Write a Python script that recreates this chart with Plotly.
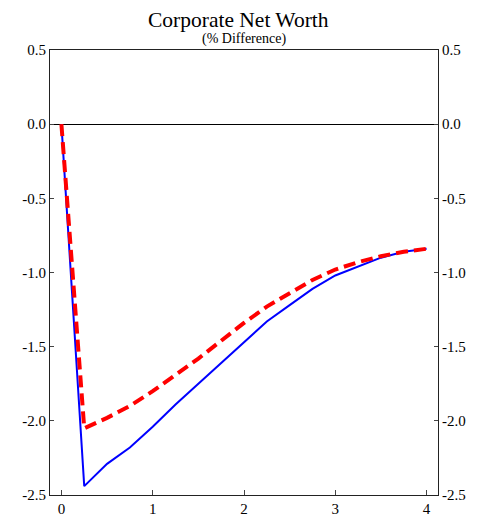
import plotly.graph_objects as go

quarters = [0, 0.25, 0.5, 0.75, 1.0, 1.25, 1.5, 1.75, 2.0, 2.25, 2.5, 2.75, 3.0, 3.25, 3.5, 3.75, 4.0]
blue_vals = [0, -2.44, -2.29, -2.18, -2.04, -1.89, -1.75, -1.61, -1.47, -1.33, -1.22, -1.11, -1.02, -0.96, -0.90, -0.86, -0.84]
red_vals = [0, -2.05, -1.98, -1.90, -1.80, -1.69, -1.58, -1.46, -1.34, -1.23, -1.14, -1.05, -0.98, -0.93, -0.89, -0.86, -0.84]
x_ticks = [0, 1, 2, 3, 4]
y_ticks = [0.5, 0.0, -0.5, -1.0, -1.5, -2.0, -2.5]
y_labels = ["0.5", "0.0", "-0.5", "-1.0", "-1.5", "-2.0", "-2.5"]

serif = "'Liberation Serif', 'Times New Roman', serif"

fig = go.Figure()
fig.add_trace(go.Scatter(x=quarters, y=blue_vals, mode="lines",
                         line=dict(color="#0000ff", width=2), showlegend=False))
fig.add_trace(go.Scatter(x=quarters, y=red_vals, mode="lines",
                         line=dict(color="#ff0000", width=4, dash="12px,6px"), showlegend=False))
# invisible trace for right axis
fig.add_trace(go.Scatter(x=quarters, y=red_vals, mode="lines", yaxis="y2",
                         line=dict(width=0), opacity=0, hoverinfo="skip", showlegend=False))

fig.update_layout(
    width=480, height=516,
    margin=dict(l=41.5, r=50, t=42, b=29, autoexpand=False),
    paper_bgcolor="white", plot_bgcolor="white",
    font=dict(family=serif, size=15, color="black"),
    xaxis=dict(range=[-0.125, 4.125], tickvals=x_ticks, ticks="inside", ticklen=5,
               tickcolor="#444", showline=True, linecolor="#222", linewidth=1, mirror=True,
               showgrid=False, zeroline=False, automargin=False,
               tickfont=dict(family=serif, size=15)),
    yaxis=dict(range=[-2.5, 0.5], tickvals=y_ticks, ticktext=y_labels, ticks="inside", ticklen=4,
               tickcolor="#444", showline=True, linecolor="#222", linewidth=1,
               showgrid=False, zeroline=True, zerolinecolor="black", zerolinewidth=1,
               automargin=False, tickfont=dict(family=serif, size=15)),
    yaxis2=dict(range=[-2.5, 0.5], tickvals=y_ticks, ticktext=y_labels, overlaying="y", side="right",
                ticks="inside", ticklen=4, tickcolor="#444", showline=True, linecolor="#222",
                linewidth=1, showgrid=False, zeroline=False, automargin=False,
                tickfont=dict(family=serif, size=15)),
    annotations=[
        dict(text="Corporate Net Worth", xref="paper", yref="paper", x=0.4865, y=1.0672,
             xanchor="center", yanchor="middle", showarrow=False,
             font=dict(family=serif, size=21.5, color="black")),
        dict(text="(% Difference)", xref="paper", yref="paper", x=0.5, y=1.0236,
             xanchor="center", yanchor="middle", showarrow=False,
             font=dict(family=serif, size=14, color="black")),
    ],
)

fig.write_html("out.html")
